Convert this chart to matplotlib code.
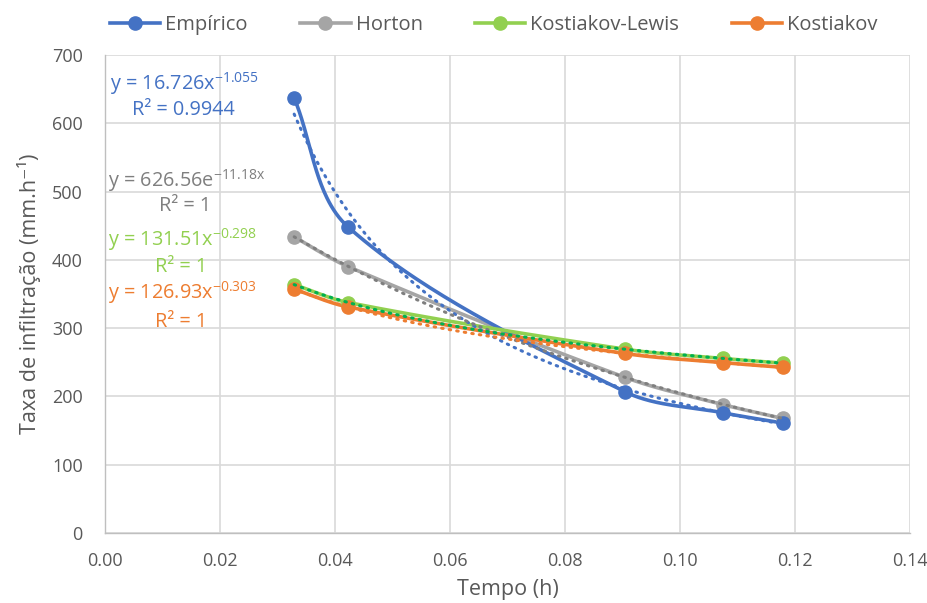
import numpy as np
import matplotlib
matplotlib.use("Agg")
import matplotlib.pyplot as plt
from matplotlib.lines import Line2D

# Measured infiltration rates and fitted models
tempo = [0.0329, 0.0423, 0.0904, 0.1075, 0.1179]
empirico = [637, 448, 207, 176, 161]
horton = [433.6, 390.0, 228.0, 188.0, 167.7]
kostiakov_lewis = [363.8, 337.5, 269.2, 255.6, 248.7]
kostiakov = [357.0, 331.0, 262.9, 249.5, 242.6]

series_names = ["Empírico", "Horton", "Kostiakov-Lewis", "Kostiakov"]
series_colors = ["#4472C4", "#A5A5A5", "#92D050", "#ED7D31"]
trend_colors = ["#4472C4", "#7F7F7F", "#00B050", "#ED7D31"]
label_colors = ["#4472C4", "#7F7F7F", "#92D050", "#ED7D31"]

# Trendline parameters (power: a*x^b, exponential: a*e^(b*x))
trend_kind = ["power", "exp", "power", "power"]
trend_a = [16.726, 626.56, 131.51, 126.93]
trend_b = [-1.055, -11.18, -0.298, -0.303]
trend_eq = [r"y = 16.726x$^{-1.055}$", r"y = 626.56e$^{-11.18x}$",
            r"y = 131.51x$^{-0.298}$", r"y = 126.93x$^{-0.303}$"]
trend_r2 = ["R² = 0.9944", "R² = 1", "R² = 1", "R² = 1"]

x_ticks = [0.00, 0.02, 0.04, 0.06, 0.08, 0.10, 0.12, 0.14]
y_ticks = [0, 100, 200, 300, 400, 500, 600, 700]

FONT = "Open Sans"
plt.rcParams["font.family"] = [FONT, "DejaVu Sans"]
plt.rcParams["mathtext.fontset"] = "custom"
plt.rcParams["mathtext.rm"] = FONT
plt.rcParams["mathtext.it"] = FONT
plt.rcParams["mathtext.default"] = "rm"

fig = plt.figure(figsize=(9.28, 6.03), dpi=100)
ax = fig.add_axes([105 / 928, 1 - 533 / 603, 805 / 928, 478 / 603])
ax.set_xlim(0, 0.14)
ax.set_ylim(0, 700)

W, H = 805.0, 478.0


def smooth(xs, ys, n=60):
    # Bezier smoothing through the points, tangents weighted by chord lengths
    px = np.asarray(xs) / 0.14 * W
    py = np.asarray(ys) / 700 * H
    pts = np.column_stack([px, py])
    m = len(pts)
    out = []
    for i in range(m - 1):
        p1, p2 = pts[i], pts[i + 1]
        d = np.linalg.norm(p2 - p1)
        if i > 0:
            p0 = pts[i - 1]
            d0 = np.linalg.norm(p1 - p0)
            c1 = p1 + (p2 - p0) * d / (d0 + d) / 3
        else:
            c1 = p1 + (p2 - p1) / 3
        if i + 2 < m:
            p3 = pts[i + 2]
            d2 = np.linalg.norm(p3 - p2)
            c2 = p2 - (p3 - p1) * d / (d + d2) / 3
        else:
            c2 = p2 - (p2 - p1) / 3
        t = np.linspace(0, 1, n)[:, None]
        seg = ((1 - t) ** 3) * p1 + 3 * ((1 - t) ** 2) * t * c1 + 3 * (1 - t) * t ** 2 * c2 + t ** 3 * p2
        out.append(seg if i == 0 else seg[1:])
    out = np.vstack(out)
    return out[:, 0] / W * 0.14, out[:, 1] / H * 700


ax.grid(True, color="#D9D9D9", linewidth=1.2)
ax.set_axisbelow(True)
for s in ["top", "right"]:
    ax.spines[s].set_visible(False)
for s in ["left", "bottom"]:
    ax.spines[s].set_color("#BFBFBF")
    ax.spines[s].set_linewidth(1.0)

data = [empirico, horton, kostiakov_lewis, kostiakov]
for i in [1, 0, 2, 3]:
    sx, sy = smooth(tempo, data[i])
    ax.plot(sx, sy, color=series_colors[i], linewidth=2.6, zorder=3,
            solid_capstyle="round")
    ax.plot(tempo, data[i], linestyle="none", marker="o", markersize=9.5,
            color=series_colors[i], zorder=4)

xt = np.linspace(tempo[0], tempo[-1], 200)
for i in range(4):
    if trend_kind[i] == "power":
        yt = trend_a[i] * xt ** trend_b[i]
    else:
        yt = trend_a[i] * np.exp(trend_b[i] * xt)
    ax.plot(xt, yt, color=trend_colors[i], linewidth=2.2,
            linestyle=(0, (0.5, 2.0)), dash_capstyle="round", zorder=5)

ax.set_xticks(x_ticks)
ax.set_xticklabels([f"{v:.2f}" for v in x_ticks])
ax.set_yticks(y_ticks)
ax.tick_params(axis="both", length=0, labelsize=13, labelcolor="#595959")
ax.tick_params(axis="y", pad=16)
ax.tick_params(axis="x", pad=14)

ax.set_xlabel("Tempo (h)", fontsize=15.5, color="#595959", labelpad=6)
ax.set_ylabel("Taxa de infiltração (mm.h⁻¹)", fontsize=15.5, color="#595959", labelpad=8)

# Trendline equation labels
eq_pos = [(110, 84), (108, 181), (108, 240), (108, 293)]
r2_pos = [(183, 110), (185, 206), (181, 267), (181, 322)]
for i in range(4):
    fig.text(eq_pos[i][0] / 928, 1 - eq_pos[i][1] / 603, trend_eq[i], fontsize=14.3,
             color=label_colors[i], ha="left", va="center")
    fig.text(r2_pos[i][0] / 928, 1 - r2_pos[i][1] / 603, trend_r2[i], fontsize=14.3,
             color=label_colors[i], ha="center", va="center")

handles = [Line2D([0], [0], color=c, linewidth=2.6, marker="o", markersize=9.5)
           for c in series_colors]
fig.legend(handles, series_names, loc="center left", bbox_to_anchor=(110 / 928, 1 - 25 / 603),
           ncol=4, frameon=False, fontsize=14.5, labelcolor="#595959",
           handlelength=2.5, handletextpad=0.25, columnspacing=2.6, borderaxespad=0,
           borderpad=0)

fig.savefig("out.png", dpi=100)
